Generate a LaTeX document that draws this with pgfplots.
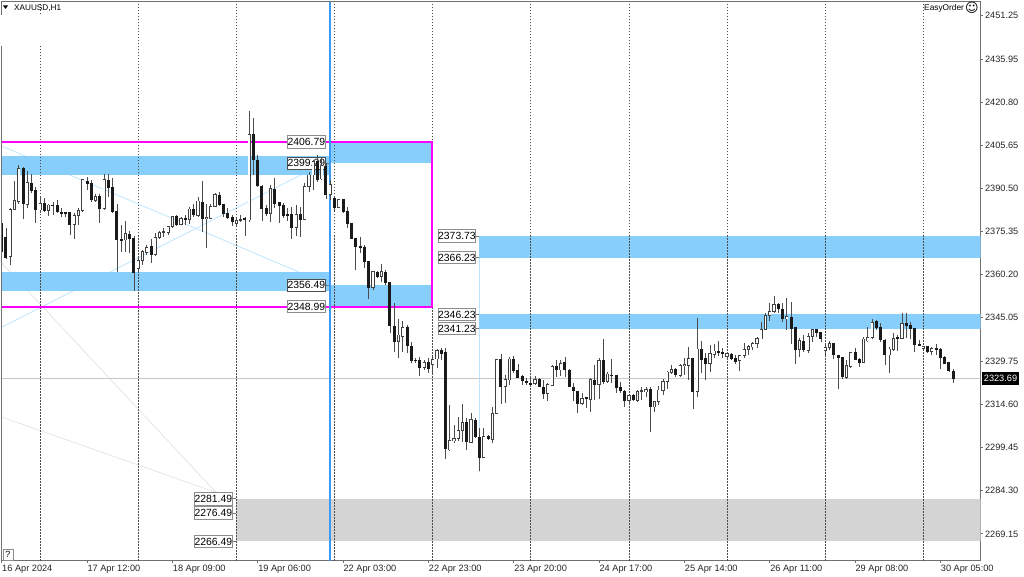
\documentclass[border=0pt]{standalone}
\usepackage{pgfplots}
\usepackage{pgfplotstable}
\usepackage{fontspec}
\pgfplotsset{compat=1.18}
\setmainfont{Liberation Sans}
\newfontfamily\djv{DejaVu Sans}
\definecolor{band}{HTML}{87CEFA}
\definecolor{trend}{HTML}{BFE4FB}
\definecolor{faint}{HTML}{E2E2E2}
\definecolor{frameg}{HTML}{707070}
\definecolor{candle}{HTML}{1A1A1A}
\definecolor{hollow}{HTML}{FEFEFE}
\pgfplotstableread{
x o h l c
0 2378.2 2378.5 2367.8 2368.3
1 2373.3 2376.5 2365.6 2366.3
2 2366.5 2383.5 2363.6 2383.2
3 2383.2 2393.1 2382.9 2386.2
4 2385.8 2398.7 2385.2 2397.5
5 2397.5 2397.9 2379.6 2385
6 2385 2396.7 2383.8 2392.5
7 2392.3 2395.6 2389 2389.6
8 2390 2390.9 2378.5 2382.9
9 2382.9 2387.4 2381.7 2385.2
10 2385.2 2387 2382.3 2382.6
11 2382.7 2385 2380.8 2384.7
12 2384.7 2385.8 2381.1 2384.5
13 2384.7 2386.4 2382 2382.3
14 2382.2 2383.5 2380.6 2381.5
15 2382 2382.3 2380.6 2381.6
16 2382.1 2382.3 2374.1 2377.6
17 2377.9 2381.7 2372.6 2381.1
18 2381 2383.5 2377.6 2382.8
19 2382.7 2393.7 2382.3 2393.5
20 2393.1 2394.4 2390 2392.3
21 2392.3 2393.5 2385.8 2386.6
22 2386.4 2388.4 2385.8 2387.6
23 2387.8 2388.4 2378.5 2383.5
24 2383.3 2395.6 2382.9 2393.5
25 2393.5 2395.6 2387.4 2390.8
26 2390.8 2394 2381.7 2382.3
27 2382.6 2385 2361 2372.4
28 2372.7 2377.6 2368.3 2372.2
29 2372.4 2379.2 2368 2374.7
30 2374.4 2375.6 2367.9 2372.8
31 2372.9 2373.8 2354.6 2361
32 2362.4 2365.9 2361 2365.3
33 2365.1 2368.9 2363.6 2368.3
34 2368 2370.6 2367.1 2369.8
35 2370.3 2372.9 2364.2 2367.3
36 2367.3 2374.7 2366.9 2373.3
37 2373.2 2375.6 2372.7 2375.1
38 2375.1 2376.5 2373.3 2375.3
39 2375 2377.3 2374.1 2377
40 2377 2380.9 2376.7 2380.7
41 2380.6 2381.1 2377.3 2377.6
42 2377.9 2380.3 2377.6 2380
43 2380 2381.1 2377.6 2379.6
44 2379.6 2384 2378 2383.3
45 2383.3 2385 2380.6 2381.1
46 2381.1 2387.6 2380.6 2386.1
47 2385.7 2393.1 2375.3 2380
48 2380 2385 2369.7 2380.4
49 2380 2385.2 2379.6 2384.3
50 2384.3 2389 2383.8 2388.4
51 2388.2 2389.3 2384.3 2384.7
52 2385 2385.2 2380.6 2381.5
53 2381.7 2383.5 2379.6 2380.3
54 2380.2 2381.1 2377.3 2378.9
55 2378.1 2380.6 2377 2379.3
56 2379.4 2381.1 2378.8 2379.7
57 2379.9 2380.6 2373.8 2379.6
58 2379.4 2417.8 2378.8 2409.6
59 2409.6 2415.1 2395.2 2400.5
60 2400.5 2402.2 2391.1 2391.3
61 2391.3 2391.7 2379.2 2383.5
62 2383.5 2384.7 2380.8 2381.5
63 2381.7 2391.7 2378.6 2390.5
64 2390.2 2394 2383.8 2385.2
65 2385.5 2385.8 2378.2 2384.3
66 2384.6 2385.5 2380 2380.8
67 2381.4 2383.5 2379 2381.1
68 2381.4 2384 2372.9 2376.7
69 2376.7 2384.7 2373.9 2381.4
70 2381.4 2384 2373.3 2379.6
71 2379.6 2392.3 2379.4 2391.3
72 2391.3 2396.4 2389.3 2395.2
73 2395.2 2400.5 2390 2399.9
74 2399.9 2402.2 2392.9 2393.7
75 2393.8 2401.6 2393.5 2398.4
76 2398.4 2399.5 2386.8 2388.4
77 2388.4 2393.5 2386.4 2392
78 2387 2387.6 2382.3 2383.7
79 2383.8 2386.8 2383.5 2386.7
80 2386.7 2386.8 2381.7 2382.3
81 2382.3 2384 2376.5 2378.2
82 2378.2 2378.3 2372.7 2372.9
83 2372.9 2373 2362 2370
84 2370.3 2373.3 2367.7 2369.8
85 2369.8 2370.6 2362.4 2364.8
86 2364.8 2365.1 2351.6 2355.8
87 2355.6 2361.3 2355 2361.2
88 2361.2 2361.6 2359.2 2359.5
89 2359.5 2364 2357.7 2361.2
90 2361.2 2361.8 2356.6 2357.5
91 2357.5 2357.7 2339.6 2342.2
92 2341.9 2350.1 2333.1 2336.6
93 2336.6 2344.8 2330.8 2339
94 2338.6 2344 2333.1 2341.6
95 2341.6 2342.5 2332.6 2335.1
96 2335.1 2336.6 2329 2330
97 2330.2 2330.8 2329.3 2330
98 2330.2 2331.4 2324.6 2327.6
99 2327.6 2330.2 2326.7 2329.3
100 2329.3 2330.8 2325.5 2327.3
101 2328.6 2332 2325.5 2330.4
102 2330.6 2334 2327.3 2333.7
103 2333.7 2334.3 2330.2 2332.6
104 2332.9 2334.3 2295.4 2298.9
105 2298.6 2314.4 2298.4 2301.9
106 2301.9 2307.4 2301.2 2302.7
107 2302.5 2310.3 2301.9 2305.6
108 2305.4 2314.8 2301.5 2308.3
109 2308.3 2309.7 2298.6 2301.5
110 2301.3 2311.5 2301.2 2309.4
111 2309.1 2309.7 2302.9 2303.3
112 2303 2306.2 2291.3 2296
113 2295.9 2306.2 2295.7 2303.3
114 2303.3 2303.9 2302.1 2302.5
115 2302.3 2313.8 2301.2 2311.5
116 2311.5 2330.6 2311.2 2330.4
117 2330.6 2332.3 2314.8 2320.8
118 2320.8 2324.9 2315.2 2323.4
119 2323.2 2331.4 2321.4 2330.6
120 2330.6 2331.6 2325.5 2326.3
121 2326.7 2328.8 2323.8 2324.1
122 2324.4 2324.9 2321.4 2322.8
123 2322.8 2323.8 2321.4 2322.5
124 2322 2324.1 2320.8 2321.4
125 2322 2324.6 2321.4 2323.4
126 2323.4 2323.8 2320.6 2320.8
127 2320.8 2323.2 2316.4 2318.3
128 2318.5 2322 2315.8 2321.7
129 2321.4 2328.5 2321.2 2328.1
130 2327.9 2330.2 2324.4 2326.9
131 2326.7 2330.2 2324.6 2329
132 2329.3 2331.4 2324.4 2326.7
133 2326.7 2326.9 2320.6 2320.8
134 2320.8 2322 2315.9 2319.3
135 2319.2 2319.4 2311.7 2315
136 2315 2318.5 2314.4 2316.7
137 2317 2317.1 2313.2 2316.5
138 2316.4 2323.8 2312 2323.4
139 2323.2 2328.5 2316.2 2321.7
140 2321.7 2330.8 2316.7 2330.2
141 2330.1 2337.5 2321.8 2322.6
142 2322.6 2326.1 2322 2325.3
143 2325 2330.5 2322 2324.7
144 2324.7 2324.9 2318.5 2320.6
145 2320.7 2322.6 2318.5 2319.3
146 2319.4 2319.7 2313.6 2315.9
147 2316 2318.3 2315.2 2317.8
148 2317.8 2318.3 2315.9 2316.3
149 2316.1 2319.7 2315.6 2319.3
150 2319.3 2320.8 2316.1 2319.5
151 2319.1 2320.8 2317.3 2319.9
152 2319.9 2320.6 2305 2313.7
153 2313.7 2315.9 2312 2315.6
154 2315.6 2321 2314.4 2319.7
155 2319.5 2323.4 2317.9 2322.6
156 2322.6 2326.4 2320.2 2326
157 2325.9 2328.4 2325.3 2326.9
158 2327.1 2327.6 2324.1 2324.9
159 2324.7 2329 2324.1 2328.3
160 2328.3 2330.8 2324.9 2328.8
161 2328.4 2334.9 2323.2 2330.7
162 2331 2331.1 2312.9 2319.1
163 2319.1 2345 2317.1 2334.1
164 2333.9 2337 2325.5 2330.5
165 2330.7 2332.8 2323.2 2329
166 2329 2335.5 2326.1 2332.5
167 2332.3 2336 2330.8 2333.4
168 2333.2 2336.9 2331.6 2333
169 2333.1 2334.3 2330.8 2332.5
170 2331.4 2333.1 2330.8 2332.4
171 2332.3 2332.8 2330.4 2330.7
172 2330.8 2332 2328.8 2329.8
173 2330 2332 2326.3 2331.7
174 2331.8 2336.3 2330.8 2333.9
175 2333.9 2335.5 2332 2334.9
176 2334.8 2336.6 2333.9 2336
177 2336 2338.4 2334.3 2337.8
178 2337.6 2343.7 2337.5 2341
179 2341 2346.6 2340.7 2345.8
180 2345.8 2350.1 2344 2347.2
181 2347.2 2352.7 2346.6 2349.8
182 2349.8 2350.1 2346.6 2348.1
183 2348.1 2350.3 2343.7 2344.8
184 2344.7 2351.9 2340.7 2345.4
185 2345.4 2350.7 2336 2341.1
186 2341.6 2341.7 2328.8 2333.9
187 2333.9 2337.8 2331.4 2337
188 2336.9 2339 2333.1 2333.7
189 2333.7 2339.6 2332.8 2338.6
190 2338.4 2341.3 2336.6 2341
191 2341 2341.3 2338.4 2339.9
192 2339.9 2340.2 2336.4 2337.8
193 2333.5 2335.5 2332 2334.5
194 2334.5 2336.9 2333.9 2336
195 2336 2336.3 2330.5 2332
196 2331.8 2332 2319.9 2331.1
197 2331.1 2331.4 2323.7 2324.3
198 2324.1 2330.2 2323.4 2328.4
199 2328.1 2333.1 2327.6 2332.8
200 2332.8 2334.3 2330.2 2330.5
201 2330.5 2330.8 2327.6 2329.3
202 2329.3 2338.4 2329 2337.6
203 2336.9 2341.9 2336.4 2338.2
204 2338.2 2344.5 2337.5 2343.3
205 2343.7 2344.2 2340.7 2341.6
206 2341.6 2343.1 2336.4 2337.2
207 2337.2 2337.5 2328.4 2332
208 2332 2334.9 2325.5 2334.1
209 2333.9 2339.6 2333.5 2337.8
210 2338.2 2339 2333.5 2337.8
211 2337.8 2346.9 2337.5 2343.1
212 2343.1 2346.6 2337.8 2342.4
213 2342.5 2343.7 2337.5 2341.3
214 2341.3 2341.6 2333.1 2335.7
215 2335.8 2337.2 2335.2 2335.5
216 2334.3 2335.2 2333.7 2335
217 2334.9 2335.2 2332.8 2333.1
218 2333.1 2334.9 2332 2334.3
219 2334.3 2336 2332 2333.9
220 2334.1 2334.3 2326.9 2331.1
221 2331.3 2331.6 2328.8 2329
222 2329.3 2329.6 2326.1 2326.4
223 2326.4 2326.9 2322 2323.69
}\bars
\pgfplotstableread{
x y
9 2456.3
32 2456.3
55 2456.3
78 2456.3
101 2456.3
124 2456.3
147 2456.3
170 2456.3
193 2456.3
216 2456.3
}\seps
\tikzset{pricelab/.style={draw=#1,fill=white,line width=0.9pt,inner sep=0pt,minimum width=37.5pt,minimum height=12.5pt,font=\fontsize{10.4}{10}\selectfont,text=black}}
\begin{document}
\begin{tikzpicture}[x=1pt,y=1pt]
\path[use as bounding box] (0,0) rectangle (1024,576);
\begin{axis}[
  at={(1.5pt,15.5pt)},anchor=south west,
  scale only axis,width=979pt,height=559.5pt,
  xmin=-0.05,xmax=229.4,ymin=2259.79,ymax=2456.34,
  clip mode=individual,
  unbounded coords=discard,
  axis line style={frameg,line width=0.9pt},
  tick style={frameg,line width=0.8pt},
  tick align=outside,
  major tick length=2.5pt,
  axis y line*=right,
  axis x line*=bottom,
  xtick={0,20,...,220},
  xticklabels={16 Apr 2024,17 Apr 12:00,18 Apr 09:00,19 Apr 06:00,22 Apr 03:00,22 Apr 23:00,23 Apr 20:00,24 Apr 17:00,25 Apr 14:00,26 Apr 11:00,29 Apr 08:00,30 Apr 05:00},
  xticklabel style={anchor=north west,xshift=-3pt,yshift=1pt,font=\fontsize{9.2}{10}\selectfont,text=black!85},
  ytick={2269.15,2284.30,2299.45,2314.60,2329.75,2345.05,2360.20,2375.35,2390.50,2405.65,2420.80,2435.95,2451.25},
  yticklabels={2269.15,2284.30,2299.45,2314.60,2329.75,2345.05,2360.20,2375.35,2390.50,2405.65,2420.80,2435.95,2451.25},
  yticklabel style={anchor=west,xshift=-1.5pt,font=\fontsize{9.2}{10}\selectfont,text=black!85},
]
% thin trend lines
\addplot[faint,line width=0.7pt,mark=none] coordinates {(-0.05,2364.4)(51.6,2281.5)};
\addplot[faint,line width=0.7pt,mark=none] coordinates {(-0.05,2310.2)(51.6,2283)};
\addplot[trend,line width=0.8pt,mark=none] coordinates {(-0.05,2405.4)(69.7,2361.1)};
\addplot[trend,line width=0.8pt,mark=none] coordinates {(-0.05,2341.7)(71.8,2396.5)};
\addplot[trend,line width=0.8pt,mark=none] coordinates {(111.85,2373.73)(111.85,2291)};
% grey zone
\addplot[fill=black!17,draw=none,mark=none] coordinates {(55,2281.49)(229.4,2281.49)(229.4,2266.49)(55,2266.49)} --cycle;
% bid line
\addplot[black!22,line width=0.8pt,mark=none] coordinates {(-0.05,2323.69)(229.4,2323.69)};
% zones
\addplot[fill=band,draw=none,mark=none] coordinates {(76.9,2406.79)(100.9,2406.79)(100.9,2399.29)(76.9,2399.29)} --cycle;
\addplot[fill=band,draw=none,mark=none] coordinates {(76.9,2356.49)(100.9,2356.49)(100.9,2348.99)(76.9,2348.99)} --cycle;
\addplot[fill=band,draw=none,mark=none] coordinates {(111.85,2373.73)(229.4,2373.73)(229.4,2366.23)(111.85,2366.23)} --cycle;
\addplot[fill=band,draw=none,mark=none] coordinates {(111.85,2346.23)(229.4,2346.23)(229.4,2341.23)(111.85,2341.23)} --cycle;
\addplot[fill=band,draw=none,mark=none] coordinates {(-0.05,2401.9)(76.9,2401.9)(76.9,2395.2)(-0.05,2395.2)} --cycle;
\addplot[fill=band,draw=none,mark=none] coordinates {(-0.05,2361.0)(76.9,2361.0)(76.9,2354.3)(-0.05,2354.3)} --cycle;
% separators
\addplot[ycomb,black!70,line width=0.7pt,dash pattern=on 1.4pt off 1.6pt,mark=none] table[x=x,y=y] {\seps};
% connector ticks
\addplot[black!55,line width=0.7pt,mark=none] coordinates {(75.8,2406.79)(76.9,2406.79)};
\addplot[black!55,line width=0.7pt,mark=none] coordinates {(75.8,2399.29)(76.9,2399.29)};
\addplot[black!55,line width=0.7pt,mark=none] coordinates {(75.8,2356.49)(76.9,2356.49)};
\addplot[black!55,line width=0.7pt,mark=none] coordinates {(75.8,2348.99)(76.9,2348.99)};
\addplot[black!55,line width=0.7pt,mark=none] coordinates {(110.8,2373.73)(111.85,2373.73)};
\addplot[black!55,line width=0.7pt,mark=none] coordinates {(110.8,2366.23)(111.85,2366.23)};
\addplot[black!55,line width=0.7pt,mark=none] coordinates {(110.8,2346.23)(111.85,2346.23)};
\addplot[black!55,line width=0.7pt,mark=none] coordinates {(110.8,2341.23)(111.85,2341.23)};
\addplot[black!55,line width=0.7pt,mark=none] coordinates {(53.8,2281.49)(55,2281.49)};
\addplot[black!55,line width=0.7pt,mark=none] coordinates {(53.8,2276.49)(55,2276.49)};
\addplot[black!55,line width=0.7pt,mark=none] coordinates {(53.8,2266.49)(55,2266.49)};
% magenta box
\addplot[line width=2pt,mark=none,color={rgb,1:red,1;green,0;blue,1}] coordinates {(-0.05,2406.79)(100.9,2406.79)(100.9,2348.99)(-0.05,2348.99)};
% vertical selected line
\addplot[color={rgb,255:red,60;green,155;blue,240},line width=1.8pt,mark=none] coordinates {(76.9,2259.79)(76.9,2456.34)};
% price labels
\node[pricelab=black!45] at (axis cs:71.4,2406.79) {2406.79};
\node[pricelab=black!70] at (axis cs:71.4,2399.29) {2399.29};
\node[pricelab=black!70] at (axis cs:71.4,2356.49) {2356.49};
\node[pricelab=black!45] at (axis cs:71.4,2348.99) {2348.99};
\node[pricelab=black!45] at (axis cs:106.7,2373.73) {2373.73};
\node[pricelab=black!45] at (axis cs:106.7,2366.23) {2366.23};
\node[pricelab=black!45] at (axis cs:106.7,2346.23) {2346.23};
\node[pricelab=black!45] at (axis cs:106.7,2341.23) {2341.23};
\node[pricelab=black!45] at (axis cs:49.6,2281.49) {2281.49};
\node[pricelab=black!45] at (axis cs:49.6,2276.49) {2276.49};
\node[pricelab=black!45] at (axis cs:49.6,2266.49) {2266.49};
% wicks
\addplot[draw=none,mark=none,error bars/.cd,y dir=both,y explicit,error mark=none,
  error bar style={draw=black!70,line width=0.8pt,line cap=butt}]
  table[x=x,y expr={(\thisrow{h}+\thisrow{l})/2},y error expr={(\thisrow{h}-\thisrow{l})/2}] {\bars};
% falling bodies
\addplot[draw=none,mark=none,error bars/.cd,y dir=both,y explicit,error mark=none,
  error bar style={draw=candle,line width=3pt,line cap=butt}]
  table[x=x,y expr={\thisrow{o}>=\thisrow{c} ? (\thisrow{o}+\thisrow{c})/2 : nan},y error expr={(\thisrow{o}-\thisrow{c})/2+0.1}] {\bars};
% rising bodies
\addplot[draw=none,mark=none,error bars/.cd,y dir=both,y explicit,error mark=none,
  error bar style={draw=black!75,line width=3.2pt,line cap=butt}]
  table[x=x,y expr={\thisrow{c}>\thisrow{o} ? (\thisrow{o}+\thisrow{c})/2 : nan},y error expr={(\thisrow{c}-\thisrow{o})/2+0.15}] {\bars};
\addplot[draw=none,mark=none,error bars/.cd,y dir=both,y explicit,error mark=none,
  error bar style={draw=hollow,line width=1.7pt,line cap=butt}]
  table[x=x,y expr={\thisrow{c}>\thisrow{o} ? (\thisrow{o}+\thisrow{c})/2 : nan},y error expr={max((\thisrow{c}-\thisrow{o})/2-0.15,0)}] {\bars};
\end{axis}
% frame sides not drawn by the one-sided axis
\draw[frameg,line width=0.9pt] (1.5,15.5) -- (1.5,575) -- (980.5,575);
\fill[black] (3,570.5) -- (8,570.5) -- (5.5,567) -- cycle;
\fill[white] (0,530) rectangle (62,561);
\node[anchor=west,inner sep=0pt,font=\fontsize{8.2}{10}\selectfont] at (14,568) {XAUUSD,H1};
\node[anchor=west,inner sep=0pt,font=\fontsize{8.3}{10}\selectfont] at (924,568) {EasyOrder};
\node[anchor=center,inner sep=0pt,font=\djv\fontsize{13}{13}\selectfont] at (972,568) {☺};
\node[fill=black,text=white,inner sep=0pt,minimum width=37.5pt,minimum height=12.5pt,font=\fontsize{9.2}{10}\selectfont] at (1000.5,197.5) {2323.69};
\node[draw=black!45,fill=white,inner sep=0pt,minimum width=10pt,minimum height=11pt,font=\fontsize{9}{10}\selectfont] at (8,21.5) {?};
\end{tikzpicture}
\end{document}
